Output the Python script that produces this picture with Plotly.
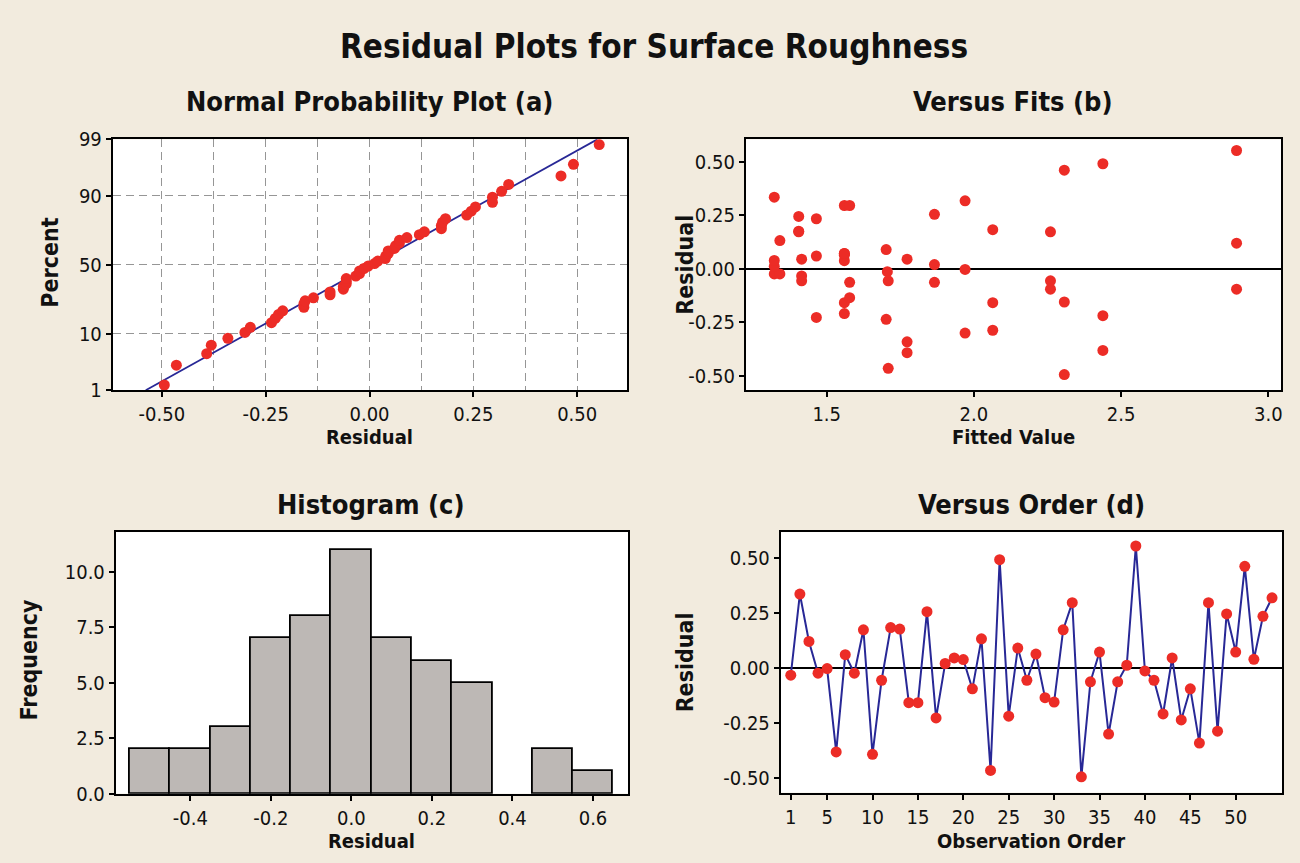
import plotly.graph_objects as go
from statistics import NormalDist
import numpy as np

# ---------------- data ----------------
order = list(range(1, 55))
residuals = [-0.033, 0.335, 0.120, -0.024, -0.003, -0.381, 0.060, -0.024, 0.173, -0.392,
             -0.056, 0.183, 0.176, -0.158, -0.158, 0.255, -0.227, 0.020, 0.045, 0.038,
             -0.095, 0.132, -0.465, 0.491, -0.219, 0.090, -0.056, 0.063, -0.135, -0.155,
             0.173, 0.296, -0.494, -0.063, 0.072, -0.300, -0.063, 0.012, 0.553, -0.0135,
             -0.056, -0.209, 0.045, -0.236, -0.095, -0.341, 0.296, -0.287, 0.245, 0.072,
             0.461, 0.039, 0.234, 0.318]
fitted = [1.415, 1.322, 2.892, 1.322, 1.970, 2.438, 1.465, 1.341, 2.260, 1.773,
          2.260, 2.064, 1.405, 2.064, 1.560, 1.866, 1.465, 1.866, 1.415, 1.560,
          2.892, 1.341, 1.709, 2.438, 2.438, 1.702, 1.415, 1.560, 1.578, 2.307,
          1.405, 1.560, 2.307, 1.866, 1.560, 1.970, 1.578, 1.322, 2.892, 1.706,
          1.709, 1.560, 1.773, 1.702, 2.260, 1.773, 1.578, 2.064, 1.405, 1.560,
          2.307, 1.322, 1.465, 1.970]

pct_ticks = [1, 10, 50, 90, 99]
pct_labels = ["1", "10", "50", "90", "99"]
res_ticks_a = [-0.50, -0.25, 0.00, 0.25, 0.50]
res_labels_a = ["-0.50", "-0.25", "0.00", "0.25", "0.50"]
fit_ticks = [1.5, 2.0, 2.5, 3.0]
fit_labels = ["1.5", "2.0", "2.5", "3.0"]
hist_xticks = [-0.4, -0.2, 0.0, 0.2, 0.4, 0.6]
hist_xlabels = ["-0.4", "-0.2", "0.0", "0.2", "0.4", "0.6"]
freq_ticks = [0, 2.5, 5.0, 7.5, 10.0]
freq_labels = ["0.0", "2.5", "5.0", "7.5", "10.0"]
order_ticks = [1, 5, 10, 15, 20, 25, 30, 35, 40, 45, 50]

# ---------------- derived ----------------
nd = NormalDist()
n = len(residuals)
sorted_res = sorted(residuals)
probs = [(i - 0.3) / (n + 0.4) for i in range(1, n + 1)]
zq = [nd.inv_cdf(p) for p in probs]
mu = float(np.mean(residuals))
sd = float(np.std(residuals, ddof=1))
zlo, zhi = nd.inv_cdf(0.01), nd.inv_cdf(0.99)
line_z = [zlo, zhi]
line_x = [mu + sd * z for z in line_z]

W, H = 1300, 863
FONT = "DejaVu Sans Condensed, Liberation Sans Narrow, Arial Narrow, sans-serif"
BG = "rgb(242,235,222)"
RED = "rgb(236,44,38)"
NAVY = "rgb(40,40,150)"
BAR = "rgb(189,184,181)"

def dx(a, b):
    return [a / W, b / W]

def dy(top, bot):
    return [1 - bot / H, 1 - top / H]

fig = go.Figure()

# (a) normal probability plot
fig.add_trace(go.Scatter(x=line_x, y=line_z, mode="lines",
                         line=dict(color=NAVY, width=1.8), xaxis="x", yaxis="y",
                         showlegend=False))
fig.add_trace(go.Scatter(x=sorted_res, y=zq, mode="markers",
                         marker=dict(color=RED, size=11), xaxis="x", yaxis="y",
                         showlegend=False))
# (b) versus fits
fig.add_trace(go.Scatter(x=fitted, y=residuals, mode="markers",
                         marker=dict(color=RED, size=11), xaxis="x2", yaxis="y2",
                         showlegend=False))
# (c) histogram
fig.add_trace(go.Histogram(x=residuals, xbins=dict(start=-0.55, end=0.65, size=0.1),
                           marker=dict(color=BAR, line=dict(color="black", width=1.8)),
                           xaxis="x3", yaxis="y3", showlegend=False))
# (d) versus order
fig.add_trace(go.Scatter(x=order, y=residuals, mode="lines+markers",
                         line=dict(color=NAVY, width=2),
                         marker=dict(color=RED, size=11),
                         xaxis="x4", yaxis="y4", showlegend=False))

tickfont = dict(family=FONT, size=20, color="#111")
base = dict(showline=True, mirror=True, linecolor="black", linewidth=2,
            ticks="outside", ticklen=5, tickwidth=1.5, tickcolor="black",
            tickfont=tickfont, showgrid=False, zeroline=False, fixedrange=True)

grid_dash = "8px,5px"
gcol = "rgb(150,150,150)"

fig.update_layout(
    width=W, height=H,
    margin=dict(l=0, r=0, t=0, b=0),
    paper_bgcolor=BG, plot_bgcolor="white",
    bargap=0,
    xaxis=dict(base, domain=dx(113, 628), range=[-0.618, 0.62], anchor="y",
               tickvals=res_ticks_a, ticktext=res_labels_a,
               showgrid=True, gridcolor=gcol, griddash=grid_dash, gridwidth=1,
               minor=dict(tickvals=[-0.375, -0.125, 0.125, 0.375], showgrid=True,
                          gridcolor=gcol, griddash=grid_dash, gridwidth=1, ticks="")),
    yaxis=dict(base, domain=dy(131, 389), range=[zlo, zhi], anchor="x",
               tickvals=[nd.inv_cdf(p / 100) for p in pct_ticks], ticktext=pct_labels,
               showgrid=True, gridcolor=gcol, griddash=grid_dash, gridwidth=1),
    xaxis2=dict(base, domain=dx(747, 1283), range=[1.2255, 3.043], anchor="y2",
                tickvals=fit_ticks, ticktext=fit_labels),
    yaxis2=dict(base, domain=dy(131, 389), range=[-0.567, 0.605], anchor="x2",
                tickvals=res_ticks_a, ticktext=res_labels_a,
                zeroline=True, zerolinecolor="black", zerolinewidth=2),
    xaxis3=dict(base, domain=dx(116, 629), range=[-0.585, 0.687], anchor="y3",
                tickvals=hist_xticks, ticktext=hist_xlabels),
    yaxis3=dict(base, domain=dy(535, 804), range=[0, 11.8], anchor="x3",
                tickvals=freq_ticks, ticktext=freq_labels),
    xaxis4=dict(base, domain=dx(782, 1284), range=[-0.1, 55.1], anchor="y4",
                tickvals=order_ticks),
    yaxis4=dict(base, domain=dy(535, 803), range=[-0.566, 0.616], anchor="x4",
                tickvals=res_ticks_a, ticktext=res_labels_a,
                zeroline=True, zerolinecolor="black", zerolinewidth=2),
)

def ann(text, x, y, size, angle=0):
    fig.add_annotation(text=f"<b>{text}</b>", x=x / W, y=1 - y / H,
                       xref="paper", yref="paper", showarrow=False,
                       xanchor="center", yanchor="middle", textangle=angle,
                       font=dict(family=FONT, size=size, color="#111"))

ann("Residual Plots for Surface Roughness", 655, 36, 33)
ann("Normal Probability Plot (a)", 370, 92, 27)
ann("Versus Fits (b)", 1015, 92, 27)
ann("Histogram (c)", 372, 507, 27)
ann("Versus Order (d)", 1033, 507, 27)

ann("Residual", 370, 437, 20)
ann("Fitted Value", 1015, 437, 20)
ann("Residual", 372, 853, 20)
ann("Observation Order", 1033, 853, 20)
ann("Percent", 50, 258, 23, -90)
ann("Residual", 686, 260, 23, -90)
ann("Frequency", 30, 666, 23, -90)
ann("Residual", 686, 669, 23, -90)

fig.write_html("out.html", config={"displayModeBar": False},
               post_script="document.body.style.margin='0';document.body.style.overflow='hidden';")
